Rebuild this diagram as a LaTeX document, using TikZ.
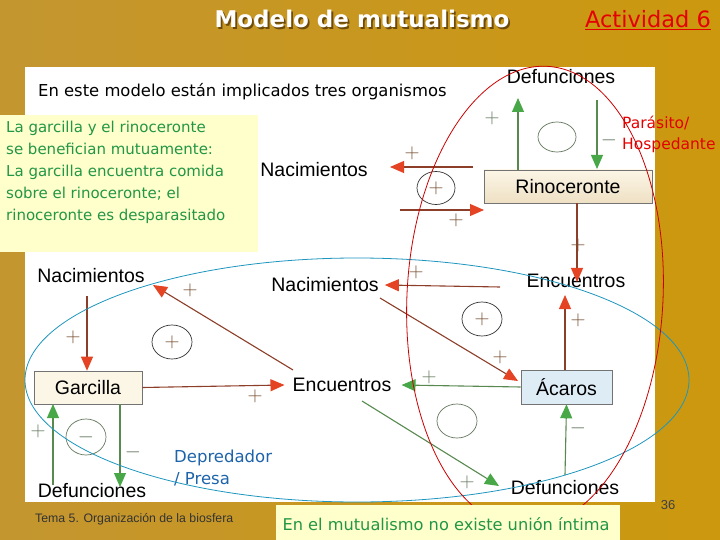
\documentclass[tikz,border=0pt]{standalone}
\usepackage{fontspec}
\setmainfont{Liberation Sans}
\newfontfamily\comic{DejaVu Sans}
\usetikzlibrary{arrows.meta,shapes.geometric}
\definecolor{goldL}{RGB}{196,150,48}
\definecolor{goldR}{RGB}{204,152,14}
\definecolor{paleY}{RGB}{255,255,204}
\definecolor{txtG}{RGB}{34,150,70}
\definecolor{headR}{RGB}{228,68,36}
\definecolor{lineR}{RGB}{140,62,40}
\definecolor{headG}{RGB}{72,168,72}
\definecolor{lineG}{RGB}{88,138,80}
\definecolor{signC}{RGB}{120,80,50}
\definecolor{signG}{RGB}{100,120,95}
\definecolor{beigeT}{RGB}{252,246,230}
\definecolor{beigeB}{RGB}{238,224,196}
\definecolor{blueBox}{RGB}{222,236,246}
\definecolor{ellR}{RGB}{205,0,0}
\definecolor{ellB}{RGB}{30,150,190}
\definecolor{depB}{RGB}{30,100,170}
\definecolor{shadowC}{RGB}{110,75,10}
\begin{document}
\begin{tikzpicture}[x=1pt,y=-1pt,
  lbl/.style={inner sep=0pt,font=\fontsize{19.5}{22}\selectfont},
  box/.style={draw=black!55,line width=0.6pt,inner sep=0pt,font=\fontsize{19.5}{22}\selectfont},
  sgn/.style={inner sep=0pt,text=signC,font=\fontsize{21}{22}\selectfont},
  sgng/.style={inner sep=0pt,text=signG,font=\fontsize{21}{22}\selectfont},
  ra/.style={draw=lineR,line width=1.1pt,-{Triangle[length=14pt,width=12pt,color=headR]}},
  ga/.style={draw=lineG,line width=1.1pt,-{Triangle[length=14pt,width=12pt,color=headG]}},
  loopc/.style={draw=black!80,line width=0.7pt,ellipse,inner sep=0pt,font=\fontsize{21}{22}\selectfont,text=signC},
  loopg/.style={draw=signG,line width=0.7pt}]
\useasboundingbox (0,0) rectangle (720,540);
% background
\shade[left color=goldL,right color=goldR] (0,0) rectangle (720,540);
\fill[white] (25,67) rectangle (655,502);
% title
\node[inner sep=0pt,text=white,font=\comic\bfseries\fontsize{23}{24}\selectfont] (title) at (362,20)
 {\makebox[0pt][l]{\hspace{1.8pt}\raisebox{-1.8pt}{\color{shadowC}Modelo de mutualismo}}Modelo de mutualismo};
\node[inner sep=0pt,text=red!90!black,font=\comic\fontsize{22.5}{24}\selectfont] (activ) at (648,20) {\underline{Actividad 6}};
\node[anchor=west,inner sep=0pt,font=\comic\fontsize{16.4}{18}\selectfont] (intro) at (38,92) {En este modelo están implicados tres organismos};
% yellow note
\fill[paleY] (0,115) rectangle (258,252);
\node[anchor=north west,inner sep=0pt,align=left,text=txtG,font=\comic\fontsize{15}{22}\selectfont] (note) at (6,121)
 {La garcilla y el rinoceronte\\se benefician mutuamente:\\La garcilla encuentra comida\\sobre el rinoceronte; el\\rinoceronte es desparasitado};
\node[anchor=north west,inner sep=0pt,align=left,text=red!90!black,font=\comic\fontsize{15.5}{21}\selectfont] (paras) at (622,116) {Parásito/\\Hospedante};
% boxes
\node[box,top color=beigeT,bottom color=beigeB,minimum width=168,minimum height=33] (rino) at (568,186.5) {Rinoceronte};
\node[box,fill=beigeT,minimum width=108,minimum height=33] (garc) at (88,387.5) {Garcilla};
\node[box,fill=blueBox,minimum width=91,minimum height=34] (acaros) at (566.5,387) {Ácaros};
% labels
\node[lbl] (defT) at (561,77) {Defunciones};
\node[lbl] (nacU) at (314,170) {Nacimientos};
\node[lbl] (encR) at (576,281) {Encuentros};
\node[lbl] (nacM) at (325,285) {Nacimientos};
\node[lbl] (nacL) at (91,276) {Nacimientos};
\node[lbl] (encM) at (342,385) {Encuentros};
\node[lbl] (defL) at (92,491) {Defunciones};
\node[lbl] (defB) at (565,488) {Defunciones};
% loop circles
\draw[loopg] (557,137) ellipse [x radius=19,y radius=15];
\node[loopc,minimum width=38,minimum height=33] (cU) at (436,188) {$+$};
\node[loopc,minimum width=40,minimum height=34] (cM) at (482,319) {$+$};
\node[loopc,minimum width=40,minimum height=34] (cL) at (172,342) {$+$};
\node[loopc,draw=signG,text=signG,minimum width=40,minimum height=36] (cG) at (86,437) {$-$};
\draw[loopg] (457,421) ellipse [x radius=20,y radius=17];
% coordinates for arrow ends
\coordinate (a1s) at (473,167); \coordinate (a1e) at (390,167);
\coordinate (a2s) at (400,210); \coordinate (a2e) at (484,210);
\coordinate (a5s) at (380,298); \coordinate (a5e) at (518,381);
\coordinate (a8s) at (293,370); \coordinate (a8e) at (153,285);
\coordinate (a15s) at (362,401); \coordinate (a15e) at (499,486);
% red arrows
\draw[ra] (a1s) -- (a1e);
\draw[ra] (a2s) -- (a2e);
\draw[ra] ([xshift=9pt]rino.south) -- ([xshift=1pt,yshift=-8pt]encR.north);
\draw[ra] (500,287) -- ([xshift=6pt]nacM.east);
\draw[ra] (a5s) -- (a5e);
\draw[ra] ([xshift=-1.5pt]acaros.north) -- (565,295);
\draw[ra] ([xshift=-4pt,yshift=-13pt]nacL.south) -- ([xshift=-1pt]garc.north);
\draw[ra] (a8s) -- (a8e);
\draw[ra] (garc.east) -- ([xshift=-8pt]encM.west);
% green arrows
\draw[ga] (518,170) -- (518,98);
\draw[ga] (597,100) -- (597,169);
\draw[ga] (acaros.west) -- ([xshift=10pt]encM.east);
\draw[ga] (53,485) -- (53,404);
\draw[ga] (120,404) -- (120,487);
\draw[ga] (a15s) -- (a15e);
\draw[ga] (565,475) -- (acaros.south);
% signs
\node[sgng] at (492,118) {$+$};
\node[sgng] at (609,140) {$-$};
\node[sgn] at (412,153) {$+$};
\node[sgn] at (456,220) {$+$};
\node[sgn] at (578,245) {$+$};
\node[sgn] at (416,272) {$+$};
\node[sgn] at (578,320) {$+$};
\node[sgn] at (500,357) {$+$};
\node[sgng] at (429,377) {$+$};
\node[sgn] at (73,337) {$+$};
\node[sgn] at (190,290) {$+$};
\node[sgn] at (255,396) {$+$};
\node[sgng] at (38,431) {$+$};
\node[sgng] at (133,452) {$-$};
\node[sgng] at (467,482) {$+$};
\node[sgng] at (578,428) {$-$};
% depredador
\node[anchor=north west,inner sep=0pt,align=left,text=depB,font=\comic\fontsize{16.5}{22}\selectfont] (dep) at (174,450) {Depredador\\/ Presa};
% ellipses
\draw[ellB,line width=0.8pt] (357,380) ellipse [x radius=332,y radius=122];
\draw[ellR,line width=0.8pt,rotate around={-3:(535,297)}] (535,297) ellipse [x radius=128,y radius=231];
% footer
\node[inner sep=0pt,text=black!75,font=\fontsize{13}{14}\selectfont] (page) at (668,505) {36};
\node[anchor=west,inner sep=0pt,text=black!80,font=\fontsize{12.3}{14}\selectfont] (tema) at (35,519) {Tema 5. Organización de la biosfera};
\fill[paleY] (276,505) rectangle (620,540);
\node[inner sep=0pt,text=txtG,font=\comic\fontsize{16.2}{18}\selectfont] (bottom) at (446,524) {En el mutualismo no existe unión íntima};
\end{tikzpicture}
\end{document}
